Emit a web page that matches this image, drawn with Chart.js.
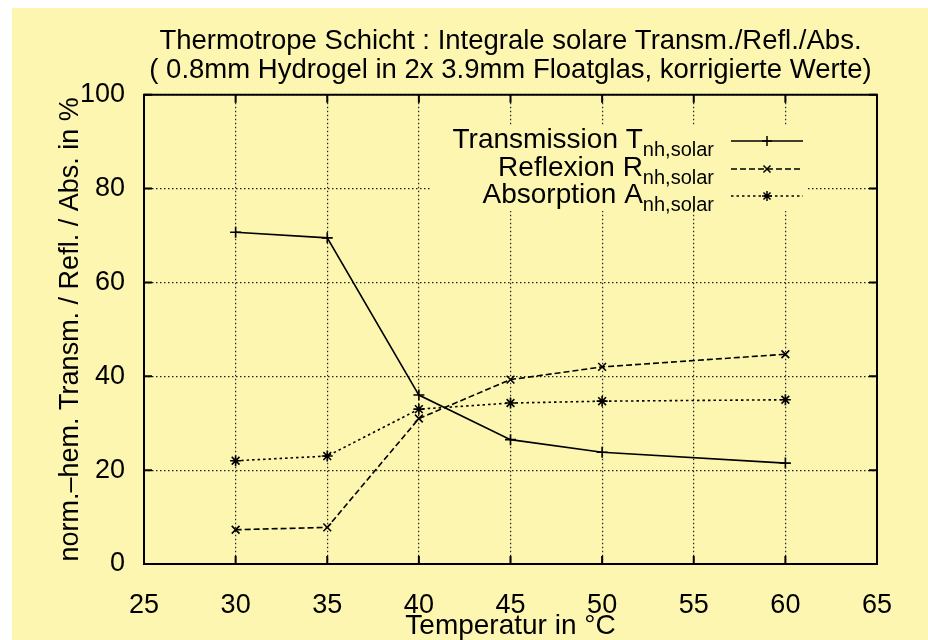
<!DOCTYPE html>
<html>
<head>
<meta charset="utf-8">
<script src="https://cdn.jsdelivr.net/npm/chart.js@4.4.1/dist/chart.umd.min.js"></script>
<style>
html,body{margin:0;padding:0;background:#fff;}
#wrap{width:928px;height:640px;position:relative;}
</style>
</head>
<body>
<div id="wrap"><canvas id="chart"></canvas></div>
<script>
// values
const temps=[30,35,40,45,50,60];
const transmission=[70.7,69.5,36.0,26.5,23.8,21.5];
const reflexion=[7.3,7.8,31.0,39.3,42.0,44.7];
const absorption=[22.0,23.0,33.0,34.3,34.7,35.0];
const xTicks=[25,30,35,40,45,50,55,60,65];
const yTicks=[0,20,40,60,80,100];
const titleLines=['Thermotrope Schicht : Integrale solare Transm./Refl./Abs.','( 0.8mm Hydrogel in 2x 3.9mm Floatglas, korrigierte Werte)'];
const xTitle='Temperatur in °C';
const yTitle='norm.–hem. Transm. / Refl. / Abs. in %';
const legendMain=['Transmission T','Reflexion R','Absorption A'];
const legendSub=['nh,solar','nh,solar','nh,solar'];

const FONT='"Liberation Sans", Arial, Helvetica, sans-serif';
const BG='#fdf6b0';

const toPts=(vals)=> temps.map((t,i)=>({x:t,y:vals[i]}));

const series=[
  {label:legendMain[0],data:toPts(transmission),pointStyle:'cross',borderDash:[]},
  {label:legendMain[1],data:toPts(reflexion),pointStyle:'crossRot',borderDash:[6,3]},
  {label:legendMain[2],data:toPts(absorption),pointStyle:'star',borderDash:[2.5,3]}
];

const paper={
  id:'paper',
  beforeDraw(chart){
    const {ctx,width,height}=chart;
    ctx.save();
    ctx.fillStyle='#fff';
    ctx.fillRect(0,0,width,height);
    ctx.fillStyle=BG;
    ctx.fillRect(12,8,width-12,height-8);
    ctx.restore();
  }
};

const keyBox={
  id:'keyBox',
  beforeDatasetsDraw(chart){
    const {ctx}=chart;
    ctx.save();
    ctx.fillStyle=BG;
    ctx.fillRect(432,125,376,86);
    const rows=[141,169,196];
    series.forEach((s,i)=>{
      const y=rows[i];
      ctx.fillStyle='#000';
      ctx.textBaseline='alphabetic';
      ctx.textAlign='right';
      ctx.font='20px '+FONT;
      const subW=ctx.measureText(legendSub[i]).width;
      ctx.fillText(legendSub[i],714,y+15);
      ctx.font='28px '+FONT;
      ctx.fillText(legendMain[i],714-subW,y+7);
      ctx.strokeStyle='#000';
      ctx.lineWidth=1.5;
      ctx.setLineDash(s.borderDash);
      ctx.beginPath();
      ctx.moveTo(731,y);
      ctx.lineTo(803,y);
      ctx.stroke();
      ctx.setLineDash([]);
      Chart.helpers.drawPoint(ctx,{pointStyle:s.pointStyle,radius:5,borderWidth:1.5,rotation:0},767,y);
    });
    ctx.restore();
  }
};

const frame={
  id:'frame',
  afterDraw(chart){
    const {ctx,chartArea:a,scales}=chart;
    ctx.save();
    ctx.strokeStyle='#000';
    ctx.lineWidth=2;
    ctx.setLineDash([]);
    ctx.beginPath();
    xTicks.forEach((v)=>{
      const px=scales.x.getPixelForValue(v);
      ctx.moveTo(px,a.bottom);ctx.lineTo(px,a.bottom-8);
      ctx.moveTo(px,a.top);ctx.lineTo(px,a.top+8);
    });
    yTicks.forEach((v)=>{
      const py=scales.y.getPixelForValue(v);
      ctx.moveTo(a.left,py);ctx.lineTo(a.left+8,py);
      ctx.moveTo(a.right,py);ctx.lineTo(a.right-8,py);
    });
    ctx.stroke();
    ctx.strokeRect(a.left,a.top,a.right-a.left,a.bottom-a.top);
    ctx.restore();
  }
};

new Chart(document.getElementById('chart'),{
  type:'line',
  data:{
    datasets:series.map((s)=>({
      label:s.label,
      data:s.data,
      borderColor:'#000',
      backgroundColor:'#000',
      borderWidth:1.6,
      borderDash:s.borderDash,
      pointStyle:s.pointStyle,
      pointRadius:5.5,
      pointBorderWidth:1.6,
      pointBorderColor:'#000',
      fill:false,
      tension:0
    }))
  },
  options:{
    responsive:true,
    maintainAspectRatio:false,
    animation:false,
    layout:{padding:{left:0,right:51,top:0,bottom:0}},
    plugins:{
      legend:{display:false},
      tooltip:{enabled:false},
      title:{
        display:true,
        fullSize:false,
        text:titleLines,
        color:'#000',
        font:{family:FONT,size:27.5,weight:'normal',lineHeight:1.05},
        padding:{top:27,bottom:10}
      }
    },
    scales:{
      x:{
        type:'linear',
        min:25,max:65,
        afterBuildTicks:(sc)=>{ sc.ticks=xTicks.map((v)=>({value:v})); },
        afterFit:(sc)=>{ sc.height=76; },
        grid:{display:true,color:'#222',lineWidth:1.2,drawTicks:false},
        border:{display:false,dash:[1.5,2.5]},
        ticks:{color:'#000',padding:25,font:{family:FONT,size:27},callback:(v)=>String(v)},
        title:{display:true,text:xTitle,color:'#000',font:{family:FONT,size:28,lineHeight:1},padding:{top:0,bottom:0}}
      },
      y:{
        type:'linear',
        min:0,max:100,
        afterBuildTicks:(sc)=>{ sc.ticks=yTicks.map((v)=>({value:v})); },
        afterFit:(sc)=>{ sc.width=144; },
        grid:{display:true,color:'#222',lineWidth:1.2,drawTicks:false},
        border:{display:false,dash:[1.5,2.5]},
        ticks:{color:'#000',padding:19,font:{family:FONT,size:27},callback:(v)=>String(v)},
        title:{display:true,text:yTitle,color:'#000',font:{family:FONT,size:27},padding:{top:54,bottom:0}}
      }
    }
  },
  plugins:[paper,keyBox,frame]
});
</script>
</body>
</html>
